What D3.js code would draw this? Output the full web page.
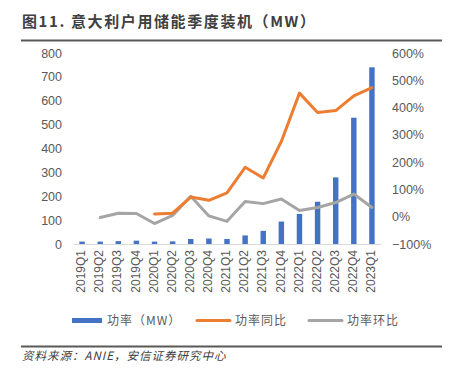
<!DOCTYPE html>
<html>
<head>
<meta charset="utf-8">
<script src="https://cdn.jsdelivr.net/npm/d3@7"></script>
<style>
  body { margin: 0; background: #fff; }
  svg { display: block; }
</style>
</head>
<body>
<svg id="chart" width="455" height="379"></svg>
<script>
const categories = ['2019Q1','2019Q2','2019Q3','2019Q4','2020Q1','2020Q2','2020Q3','2020Q4','2021Q1','2021Q2','2021Q3','2021Q4','2022Q1','2022Q2','2022Q3','2022Q4','2023Q1'];
const power = [10, 10, 12, 14, 10, 11, 21, 23, 21, 36, 55, 94, 126, 177, 279, 529, 740];
const yoy = [null, null, null, null, 10, 13, 72, 60, 87, 181, 142, 276, 453, 382, 389, 443, 473];
const qoq = [null, -3, 13, 12, -25, 5, 75, 3, -17, 56, 48, 65, 23, 34, 52, 83, 34];
const leftTicks = [0, 100, 200, 300, 400, 500, 600, 700, 800];
const rightTicks = [-100, 0, 100, 200, 300, 400, 500, 600];
const seriesNames = ['功率（MW）', '功率同比', '功率环比'];
const colors = ['#4472C4', '#ED7D31', '#A5A5A5'];

const svg = d3.select('#chart');
const plotLeft = 73, plotRight = 381, plotTop = 53, plotBottom = 244;
const numFont = '"Liberation Sans", Arial, sans-serif';
const cjkFont = '"Noto Sans CJK SC", "Noto Sans", sans-serif';
const textColor = '#595959';

// Title
svg.append('text').attr('x', 22).attr('y', 27)
  .attr('font-family', cjkFont).attr('font-weight', 'bold')
  .attr('font-size', 15).attr('letter-spacing', '1.6px')
  .attr('fill', '#404040').text('图11. 意大利户用储能季度装机（MW）');
svg.append('line').attr('x1', 21).attr('x2', 442).attr('y1', 40.5).attr('y2', 40.5)
  .attr('stroke', '#595959').attr('stroke-width', 2);

const x = d3.scaleBand().domain(categories).range([plotLeft, plotRight]).padding(0);
const yL = d3.scaleLinear().domain([0, 800]).range([plotBottom, plotTop]);
const yR = d3.scaleLinear().domain([-100, 600]).range([plotBottom, plotTop]);

// Bars
const bw = x.bandwidth() * 0.3;
svg.append('g').selectAll('rect').data(power).join('rect')
  .attr('x', (d, i) => x(categories[i]) + x.bandwidth() / 2 - bw / 2)
  .attr('y', d => yL(d))
  .attr('width', bw)
  .attr('height', d => yL(0) - yL(d))
  .attr('fill', colors[0]);

// X axis
const xAxis = svg.append('g').attr('transform', `translate(0,${plotBottom})`)
  .call(d3.axisBottom(x).tickSize(0));
xAxis.select('.domain').attr('stroke', '#d9d9d9');
xAxis.selectAll('text')
  .attr('x', 0).attr('y', 0).attr('dy', '0.35em')
  .attr('transform', 'translate(-1,6) rotate(-90)')
  .style('text-anchor', 'end')
  .attr('font-family', numFont).attr('font-size', 12).attr('fill', textColor);

// Left axis
const yAxisL = svg.append('g').attr('transform', `translate(${plotLeft},0)`)
  .call(d3.axisLeft(yL).tickValues(leftTicks).tickSize(0).tickPadding(11));
yAxisL.select('.domain').remove();
yAxisL.selectAll('text').attr('font-family', numFont).attr('font-size', 12.5).attr('fill', textColor);

// Right axis
const yAxisR = svg.append('g').attr('transform', `translate(${plotRight},0)`)
  .call(d3.axisRight(yR).tickValues(rightTicks).tickSize(0).tickPadding(11)
    .tickFormat(d => (d < 0 ? '−' + Math.abs(d) : d) + '%'));
yAxisR.select('.domain').remove();
yAxisR.selectAll('text').attr('font-family', numFont).attr('font-size', 12.5).attr('fill', textColor);

// Lines
const cx = c => x(c) + x.bandwidth() / 2;
function drawLine(values, color) {
  const line = d3.line()
    .defined(d => d != null)
    .x((d, i) => cx(categories[i]))
    .y(d => yR(d));
  svg.append('path').datum(values)
    .attr('d', line).attr('fill', 'none')
    .attr('stroke', color).attr('stroke-width', 3)
    .attr('stroke-linejoin', 'round').attr('stroke-linecap', 'round');
}
drawLine(qoq, colors[2]);
drawLine(yoy, colors[1]);

// Legend
const lg = svg.append('g');
const legendItems = [
  { x: 72, w: 30, type: 'rect' },
  { x: 197, w: 33, type: 'line' },
  { x: 309, w: 33, type: 'line' }
];
legendItems.forEach((it, i) => {
  if (it.type === 'rect') {
    lg.append('rect').attr('x', it.x).attr('y', 318).attr('width', it.w).attr('height', 5).attr('fill', colors[i]);
  } else {
    lg.append('line').attr('x1', it.x).attr('x2', it.x + it.w).attr('y1', 320.5).attr('y2', 320.5)
      .attr('stroke', colors[i]).attr('stroke-width', 3).attr('stroke-linecap', 'round');
  }
  lg.append('text').attr('x', it.x + it.w + 5).attr('y', 325)
    .attr('font-family', cjkFont).attr('font-size', 12).attr('letter-spacing', '1px')
    .attr('fill', textColor).text(seriesNames[i]);
});

// Bottom line and source
svg.append('line').attr('x1', 21).attr('x2', 442).attr('y1', 346.5).attr('y2', 346.5)
  .attr('stroke', '#595959').attr('stroke-width', 2);
svg.append('text').attr('x', 22).attr('y', 360)
  .attr('font-family', cjkFont).attr('font-style', 'italic')
  .attr('font-size', 11.5).attr('letter-spacing', '1px')
  .attr('fill', '#404040').text('资料来源：ANIE，安信证券研究中心');
</script>
</body>
</html>
